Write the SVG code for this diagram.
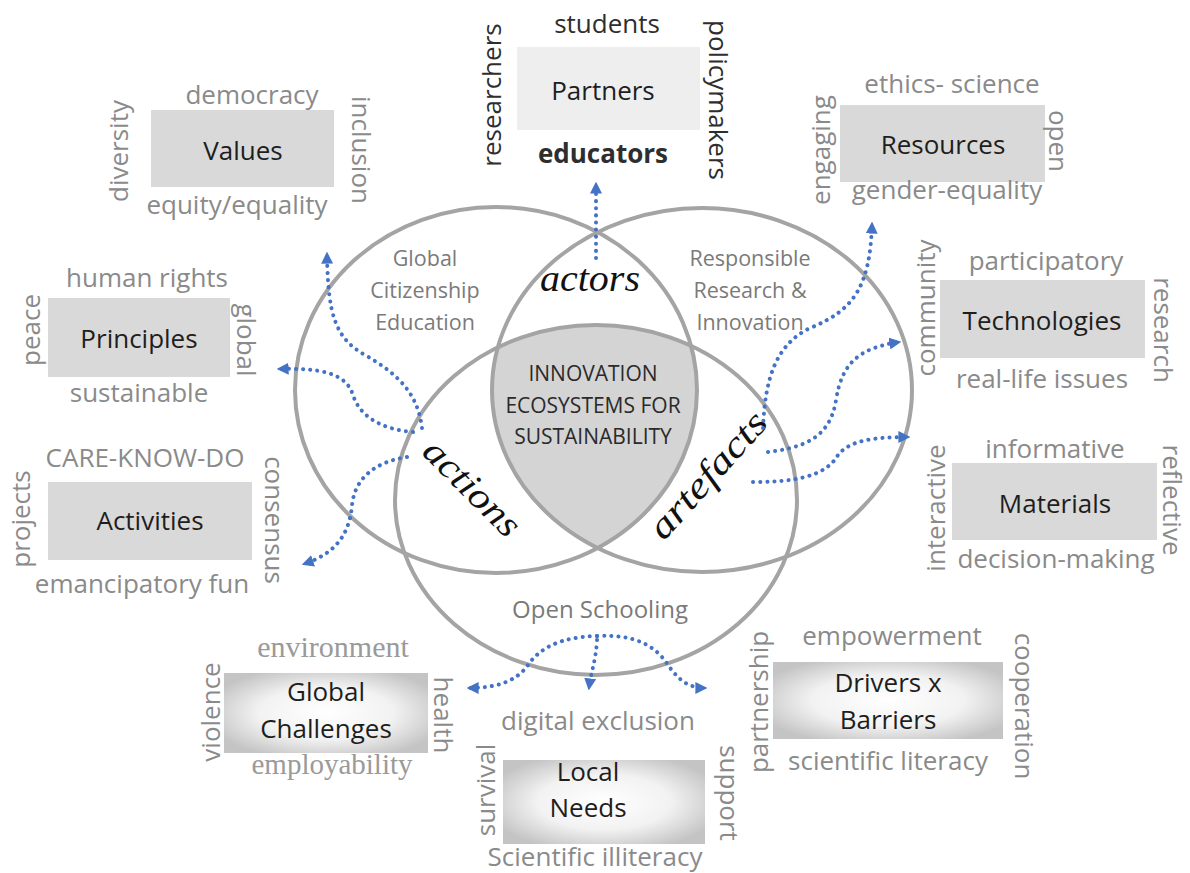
<svg xmlns="http://www.w3.org/2000/svg" width="1190" height="873" viewBox="0 0 1190 873">
<defs>
<style>
.w{font-family:"Open Sans","Noto Sans",sans-serif;font-size:26px;fill:#8a8a8a;text-anchor:middle}
.wd{font-family:"Open Sans","Noto Sans",sans-serif;font-size:26px;fill:#2e2e2e;text-anchor:middle}
.ws{font-family:"Liberation Serif","Times New Roman",serif;font-size:30px;fill:#9a9a9a;text-anchor:middle}
.lbl{font-family:"Open Sans","Noto Sans",sans-serif;font-size:26px;fill:#1e1e1e;text-anchor:middle}
.cl{font-family:"Open Sans","Noto Sans",sans-serif;font-size:21.5px;fill:#7a7a7a;text-anchor:middle}
.cc{font-family:"Open Sans","Noto Sans",sans-serif;font-size:21px;fill:#2a2a2a;text-anchor:middle}
.scr{font-family:"Liberation Serif","DejaVu Serif",serif;font-style:italic;font-size:37px;fill:#111;text-anchor:middle}
.box{fill:#d9d9d9}
.boxl{fill:#eeeeee}
.ring{fill:none;stroke:#a4a4a4;stroke-width:4}
.con{fill:none;stroke:#4472c4;stroke-width:4;stroke-dasharray:0.1 7;stroke-linecap:round;marker-end:url(#arr)}
</style>
<marker id="arr" viewBox="0 0 10 10" refX="8" refY="5" markerWidth="12" markerHeight="12" markerUnits="userSpaceOnUse" orient="auto">
<path d="M0,0 L10,5 L0,10 z" fill="#4472c4"/>
</marker>
<radialGradient id="grad" cx="50%" cy="50%" r="60%">
<stop offset="0" stop-color="#ffffff"/>
<stop offset="0.55" stop-color="#f2f2f2"/>
<stop offset="1" stop-color="#c4c4c4"/>
</radialGradient>
<clipPath id="clipL"><ellipse cx="496" cy="390" rx="201" ry="183"/></clipPath>
<clipPath id="clipR"><ellipse cx="702" cy="390" rx="210" ry="182"/></clipPath>
</defs>
<rect width="1190" height="873" fill="#ffffff"/>

<g id="venn">
<g id="lens" clip-path="url(#clipL)"><g clip-path="url(#clipR)"><ellipse cx="596" cy="500" rx="201" ry="175" fill="#d4d4d4"/></g></g>
<g id="circle-gce"><ellipse class="ring" cx="496" cy="390" rx="201" ry="183"/>
<text class="cl" x="425" y="266">Global</text><text class="cl" x="425" y="298">Citizenship</text><text class="cl" x="425" y="330">Education</text></g>
<g id="circle-rri"><ellipse class="ring" cx="702" cy="390" rx="210" ry="182"/>
<text class="cl" x="750" y="266">Responsible</text><text class="cl" x="750" y="298">Research &amp;</text><text class="cl" x="750" y="330">Innovation</text></g>
<g id="circle-os"><ellipse class="ring" cx="596" cy="500" rx="201" ry="175"/>
<text class="cl" x="600" y="618" style="font-size:24px">Open Schooling</text></g>
<g id="center"><text class="cc" x="593" y="381">INNOVATION</text><text class="cc" x="593" y="413">ECOSYSTEMS FOR</text><text class="cc" x="593" y="444">SUSTAINABILITY</text></g>
<g id="actors"><text class="scr" x="590" y="291" textLength="100" lengthAdjust="spacingAndGlyphs">actors</text></g>
<g id="actions"><text class="scr" transform="translate(470,490) rotate(45)" x="0" y="9" textLength="122" lengthAdjust="spacingAndGlyphs">actions</text></g>
<g id="artefacts"><text class="scr" transform="translate(710,477) rotate(-48)" x="0" y="9" textLength="158" lengthAdjust="spacingAndGlyphs">artefacts</text></g>
</g>

<g id="connectors">
<path class="con" d="M596,258 L596,184"/>
<path class="con" d="M422,428 C418,395 400,375 365,355 C335,338 328,315 327,254"/>
<path class="con" d="M413,432 C385,430 360,418 353,395 C346,372 318,368 279,369"/>
<path class="con" d="M407,457 C375,462 355,478 352,505 C349,540 330,555 304,564"/>
<path class="con" d="M763,428 C765,380 775,345 810,328 C855,310 870,285 872,224"/>
<path class="con" d="M768,452 C800,448 830,440 836,400 C842,362 860,348 899,342"/>
<path class="con" d="M753,482 C790,482 825,478 838,455 C850,440 875,437 908,437"/>
<path class="con" d="M597,636 C560,637 540,648 528,665 C516,682 495,688 469,688"/>
<path class="con" d="M597,636 C634,634 655,645 668,665 C680,682 690,688 705,688"/>
<path class="con" d="M597,640 C596,660 591,672 589,688"/>
</g>

<g id="values">
<rect class="box" x="151" y="110" width="183" height="77"/>
<text class="lbl" x="243" y="160">Values</text>
<text class="w" x="252" y="104">democracy</text>
<text class="w" x="237" y="214">equity/equality</text>
<text class="w" transform="translate(128,151) rotate(-90)">diversity</text>
<text class="w" transform="translate(352,150) rotate(90)">inclusion</text>
</g>

<g id="partners">
<rect class="boxl" x="517" y="47" width="183" height="83"/>
<text class="lbl" x="603" y="100">Partners</text>
<text class="wd" x="607" y="33">students</text>
<text class="wd" x="603" y="163" style="font-weight:bold">educators</text>
<text class="wd" transform="translate(501,95) rotate(-90)">researchers</text>
<text class="wd" transform="translate(709,100) rotate(90)">policymakers</text>
</g>

<g id="resources">
<rect class="box" x="840" y="105" width="205" height="77"/>
<text class="lbl" x="943" y="154">Resources</text>
<text class="w" x="952" y="93">ethics- science</text>
<text class="w" x="947" y="199">gender-equality</text>
<text class="w" transform="translate(830,150) rotate(-90)">engaging</text>
<text class="w" transform="translate(1049,141) rotate(90)">open</text>
</g>

<g id="principles">
<rect class="box" x="48" y="298" width="182" height="79"/>
<text class="lbl" x="139" y="348">Principles</text>
<text class="w" x="147" y="287">human rights</text>
<text class="w" x="139" y="402">sustainable</text>
<text class="w" transform="translate(40,330) rotate(-90)">peace</text>
<text class="w" transform="translate(237,340) rotate(90)">global</text>
</g>

<g id="activities">
<rect class="box" x="48" y="482" width="204" height="78"/>
<text class="lbl" x="150" y="530">Activities</text>
<text class="w" x="145" y="467">CARE-KNOW-DO</text>
<text class="w" x="142" y="593">emancipatory fun</text>
<text class="w" transform="translate(30,519) rotate(-90)">projects</text>
<text class="w" transform="translate(265,520) rotate(90)">consensus</text>
</g>

<g id="technologies">
<rect class="box" x="940" y="280" width="205" height="78"/>
<text class="lbl" x="1042" y="330">Technologies</text>
<text class="w" x="1046" y="270">participatory</text>
<text class="w" x="1042" y="388">real-life issues</text>
<text class="w" transform="translate(935,308) rotate(-90)">community</text>
<text class="w" transform="translate(1154,330) rotate(90)">research</text>
</g>

<g id="materials">
<rect class="box" x="952" y="463" width="205" height="77"/>
<text class="lbl" x="1055" y="513">Materials</text>
<text class="w" x="1055" y="458">informative</text>
<text class="w" x="1056" y="568">decision-making</text>
<text class="w" transform="translate(945,508) rotate(-90)">interactive</text>
<text class="w" transform="translate(1163,500) rotate(90)">reflective</text>
</g>

<g id="global-challenges">
<rect x="224" y="673" width="204" height="80" fill="url(#grad)"/>
<text class="lbl" x="326" y="701">Global</text>
<text class="lbl" x="326" y="738">Challenges</text>
<text class="ws" x="333" y="657">environment</text>
<text class="ws" x="332" y="774" style="font-size:29px">employability</text>
<text class="w" transform="translate(220,712) rotate(-90)">violence</text>
<text class="w" transform="translate(434,715) rotate(90)">health</text>
</g>

<g id="local-needs">
<rect x="503" y="760" width="202" height="84" fill="url(#grad)"/>
<text class="lbl" x="588" y="781">Local</text>
<text class="lbl" x="588" y="817">Needs</text>
<text class="w" x="598" y="730">digital exclusion</text>
<text class="w" x="595" y="866">Scientific illiteracy</text>
<text class="w" transform="translate(495,790) rotate(-90)">survival</text>
<text class="w" transform="translate(720,793) rotate(90)">support</text>
</g>

<g id="drivers-barriers">
<rect x="773" y="662" width="230" height="77" fill="url(#grad)"/>
<text class="lbl" x="888" y="692">Drivers x</text>
<text class="lbl" x="888" y="729">Barriers</text>
<text class="w" x="892" y="645">empowerment</text>
<text class="w" x="888" y="770">scientific literacy</text>
<text class="w" transform="translate(768,702) rotate(-90)">partnership</text>
<text class="w" transform="translate(1015,706) rotate(90)">cooperation</text>
</g>
</svg>
